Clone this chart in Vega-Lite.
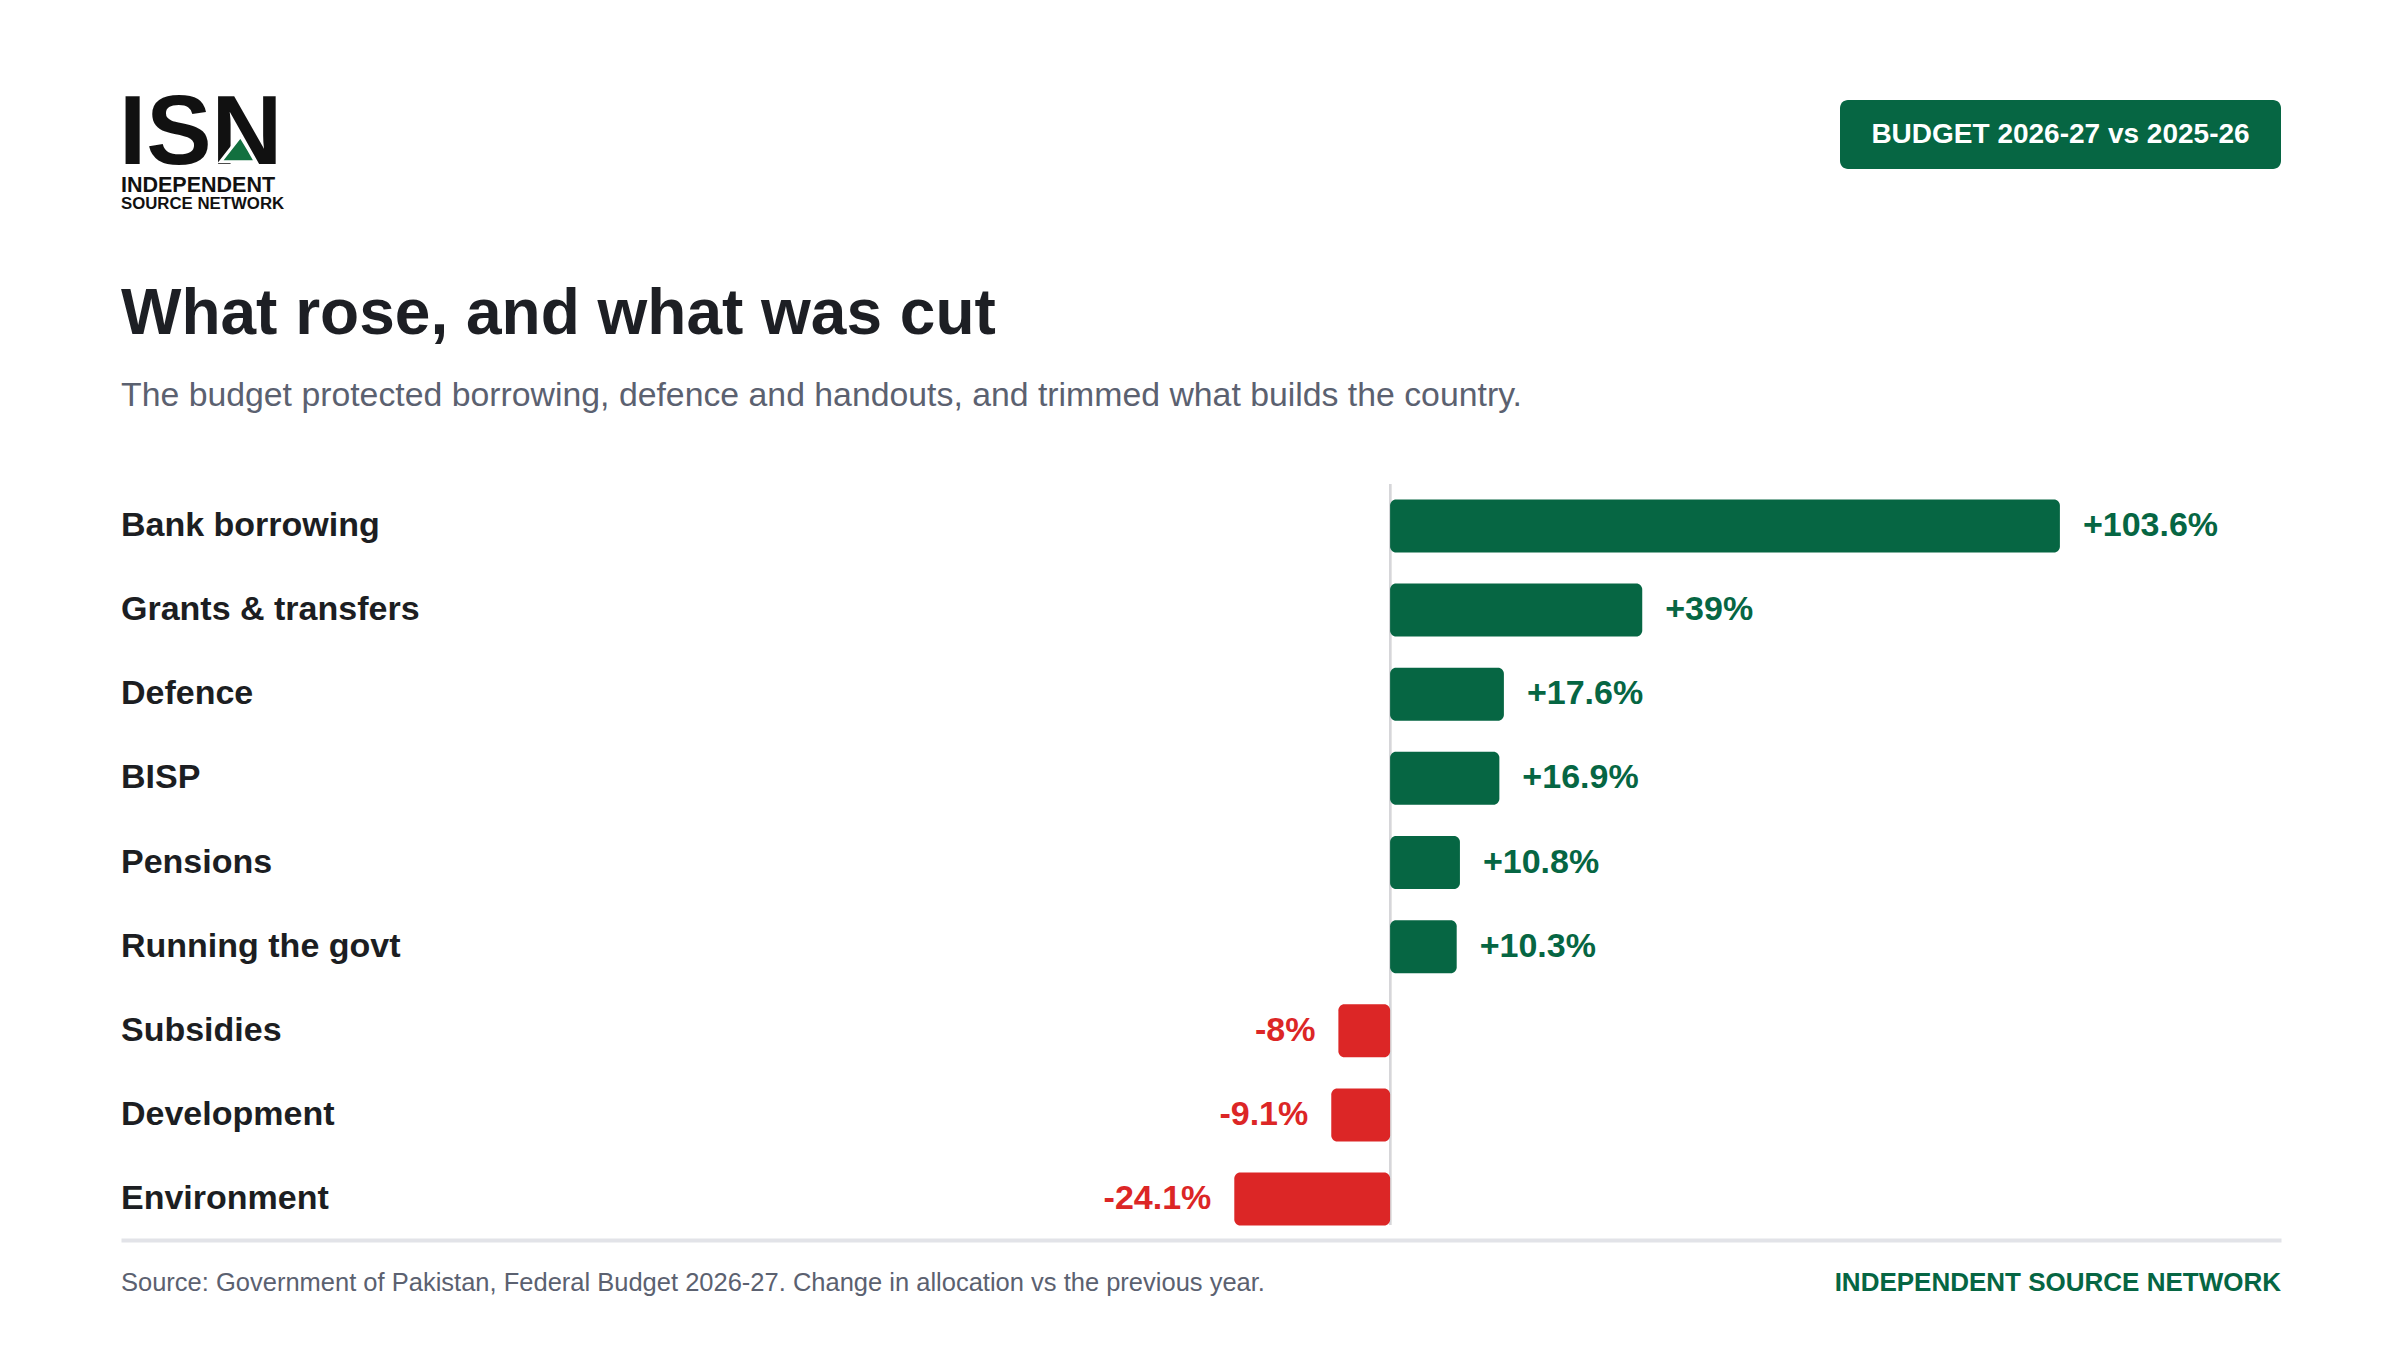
{
  "$schema": "https://vega.github.io/schema/vega-lite/v6.json",
  "width": 2160,
  "height": 755,
  "autosize": {"type": "none"},
  "padding": {"left": 121, "top": 485, "right": 119, "bottom": 110},
  "background": "#ffffff",
  "config": {"view": {"stroke": null}, "font": "Liberation Sans"},
  "data": {
    "values": [
      {"category": "Bank borrowing", "value": 103.6, "label": "+103.6%"},
      {"category": "Grants & transfers", "value": 39, "label": "+39%"},
      {"category": "Defence", "value": 17.6, "label": "+17.6%"},
      {"category": "BISP", "value": 16.9, "label": "+16.9%"},
      {"category": "Pensions", "value": 10.8, "label": "+10.8%"},
      {"category": "Running the govt", "value": 10.3, "label": "+10.3%"},
      {"category": "Subsidies", "value": -8, "label": "-8%"},
      {"category": "Development", "value": -9.1, "label": "-9.1%"},
      {"category": "Environment", "value": -24.1, "label": "-24.1%"}
    ]
  },
  "layer": [
    {
      "mark": {"type": "rule", "color": "#d6d6da", "strokeWidth": 2},
      "encoding": {
        "x": {"datum": 0, "type": "quantitative", "axis": {"title": null, "labels": false, "ticks": false, "grid": false, "domain": true, "domainColor": "#e2e3e8", "domainWidth": 4}},
        "y": {"value": -1},
        "y2": {"value": 740}
      }
    },
    {
      "mark": {"type": "bar", "cornerRadius": 6},
      "encoding": {
        "y": {"field": "category", "type": "nominal", "sort": null, "axis": null, "scale": {"paddingInner": 0.37, "paddingOuter": 0.172}},
        "x": {"field": "value", "type": "quantitative", "scale": {"domain": [-196.3, 137.8], "nice": false, "zero": false}, "axis": {"title": null, "labels": false, "ticks": false, "grid": false, "domain": true, "domainColor": "#e2e3e8", "domainWidth": 4}},
        "x2": {"datum": 0},
        "color": {"condition": {"test": "datum.value > 0", "value": "#066643"}, "value": "#dc2626"}
      }
    },
    {
      "transform": [{"filter": "datum.value > 0"}],
      "mark": {"type": "text", "align": "left", "baseline": "middle", "dx": 23, "fontSize": 34, "fontWeight": "bold", "color": "#066643"},
      "encoding": {
        "y": {"field": "category", "type": "nominal", "sort": null, "axis": null},
        "x": {"field": "value", "type": "quantitative", "axis": {"title": null, "labels": false, "ticks": false, "grid": false, "domain": true, "domainColor": "#e2e3e8", "domainWidth": 4}},
        "text": {"field": "label"}
      }
    },
    {
      "transform": [{"filter": "datum.value < 0"}],
      "mark": {"type": "text", "align": "right", "baseline": "middle", "dx": -23, "fontSize": 34, "fontWeight": "bold", "color": "#dc2626"},
      "encoding": {
        "y": {"field": "category", "type": "nominal", "sort": null, "axis": null},
        "x": {"field": "value", "type": "quantitative", "axis": {"title": null, "labels": false, "ticks": false, "grid": false, "domain": true, "domainColor": "#e2e3e8", "domainWidth": 4}},
        "text": {"field": "label"}
      }
    },
    {
      "mark": {"type": "text", "align": "left", "baseline": "middle", "fontSize": 34, "fontWeight": "bold", "color": "#1c1e22"},
      "encoding": {
        "y": {"field": "category", "type": "nominal", "sort": null, "axis": null},
        "x": {"value": 0},
        "text": {"field": "category"}
      }
    },
    {
      "data": {"values": [{"t": "What rose, and what was cut"}]},
      "mark": {"type": "text", "align": "left", "baseline": "alphabetic", "fontSize": 64, "fontWeight": "bold", "color": "#1d1f24"},
      "encoding": {"x": {"value": 0}, "y": {"value": -151}, "text": {"field": "t"}}
    },
    {
      "data": {"values": [{"t": "The budget protected borrowing, defence and handouts, and trimmed what builds the country."}]},
      "mark": {"type": "text", "align": "left", "baseline": "alphabetic", "fontSize": 33.8, "color": "#5b6170"},
      "encoding": {"x": {"value": 0}, "y": {"value": -79}, "text": {"field": "t"}}
    },
    {
      "data": {"values": [{"t": "ISN"}]},
      "mark": {"type": "text", "align": "left", "baseline": "alphabetic", "fontSize": 98, "fontWeight": "bold", "color": "#111111"},
      "encoding": {"x": {"value": -2}, "y": {"value": -321}, "text": {"field": "t"}}
    },
    {
      "data": {"values": [{"t": "logo mark"}]},
      "mark": {"type": "point", "filled": true, "shape": "M -1 0.73 L 0.14 -0.73 Q 0.6 0 1 0.73 Z", "size": 1225, "color": "#12703f", "opacity": 1, "stroke": "#ffffff", "strokeWidth": 3},
      "encoding": {"x": {"value": 117}, "y": {"value": -336}}
    },
    {
      "data": {"values": [{"t": "INDEPENDENT"}]},
      "mark": {"type": "text", "align": "left", "baseline": "alphabetic", "fontSize": 21.5, "fontWeight": "bold", "color": "#111111"},
      "encoding": {"x": {"value": 0}, "y": {"value": -293}, "text": {"field": "t"}}
    },
    {
      "data": {"values": [{"t": "SOURCE NETWORK"}]},
      "mark": {"type": "text", "align": "left", "baseline": "alphabetic", "fontSize": 16.8, "fontWeight": "bold", "color": "#111111"},
      "encoding": {"x": {"value": 0}, "y": {"value": -276}, "text": {"field": "t"}}
    },
    {
      "data": {"values": [{"t": "badge"}]},
      "mark": {"type": "rect", "cornerRadius": 8, "color": "#066643"},
      "encoding": {"x": {"value": 1719}, "x2": {"value": 2160}, "y": {"value": -385}, "y2": {"value": -316}}
    },
    {
      "data": {"values": [{"t": "BUDGET 2026-27 vs 2025-26"}]},
      "mark": {"type": "text", "align": "center", "baseline": "middle", "fontSize": 28, "fontWeight": "bold", "color": "#ffffff"},
      "encoding": {"x": {"value": 1939.5}, "y": {"value": -350.5}, "text": {"field": "t"}}
    },
    {
      "data": {"values": [{"t": "Source: Government of Pakistan, Federal Budget 2026-27. Change in allocation vs the previous year."}]},
      "mark": {"type": "text", "align": "left", "baseline": "alphabetic", "fontSize": 25.5, "color": "#5b6170"},
      "encoding": {"x": {"value": 0}, "y": {"value": 806}, "text": {"field": "t"}}
    },
    {
      "data": {"values": [{"t": "INDEPENDENT SOURCE NETWORK"}]},
      "mark": {"type": "text", "align": "right", "baseline": "alphabetic", "fontSize": 26, "fontWeight": "bold", "color": "#066643"},
      "encoding": {"x": {"value": 2160}, "y": {"value": 806}, "text": {"field": "t"}}
    }
  ]
}
